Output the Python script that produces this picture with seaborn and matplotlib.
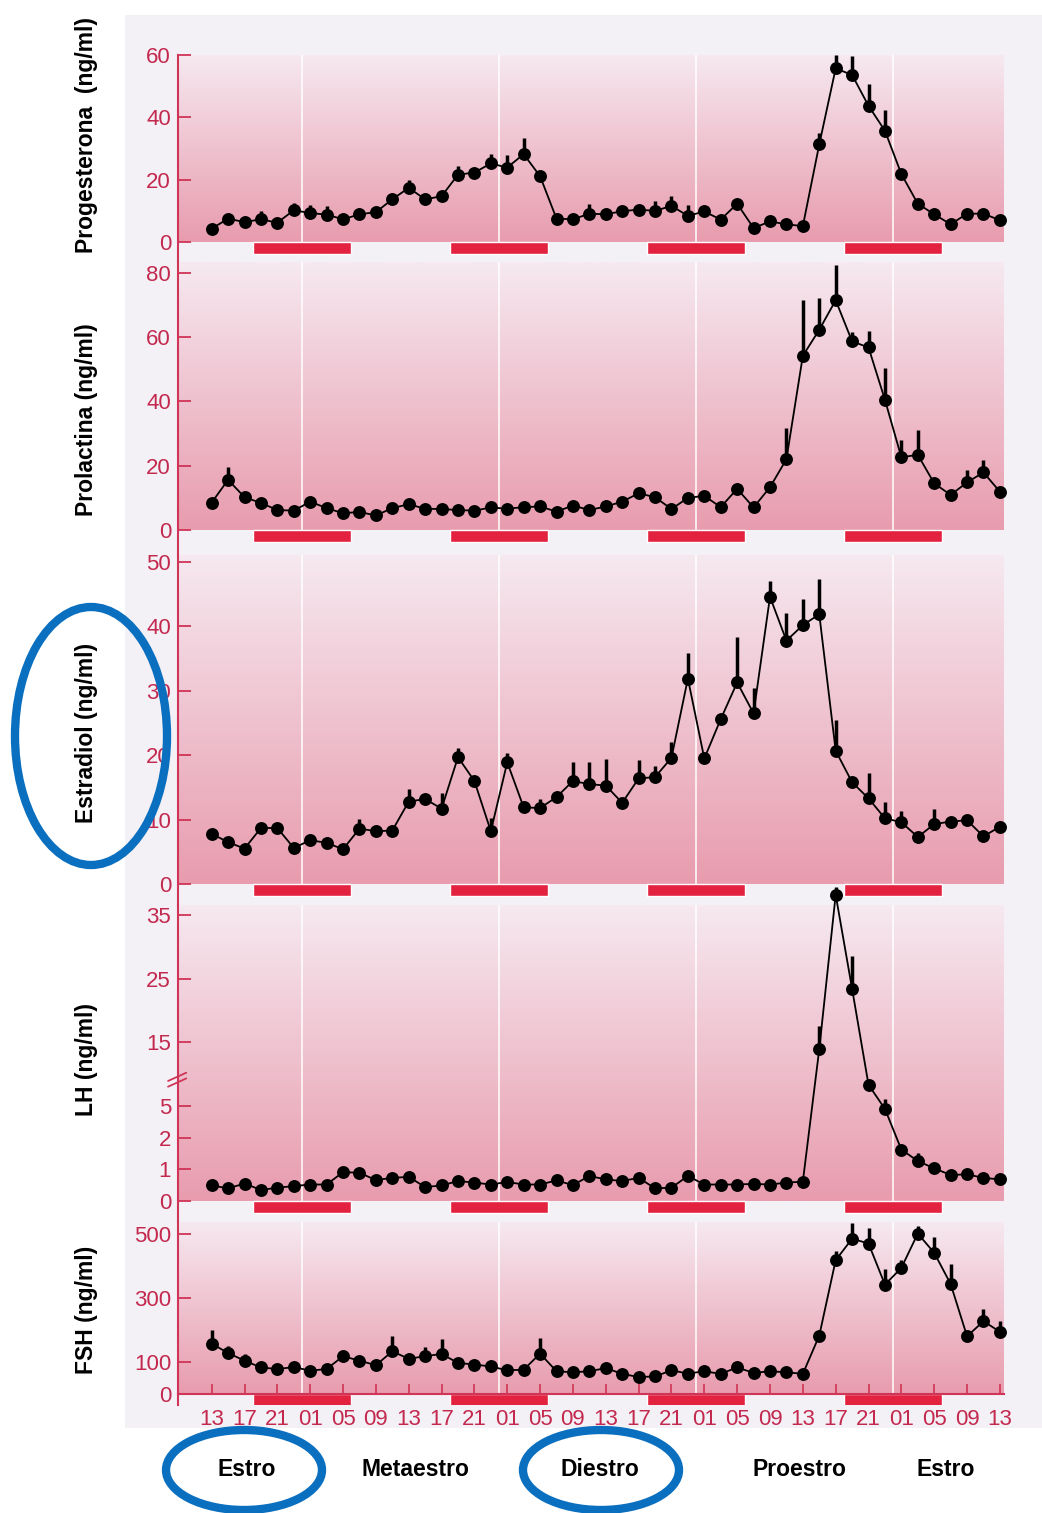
import numpy as np
import pandas as pd
import matplotlib
matplotlib.use('Agg')
import matplotlib.pyplot as plt
import matplotlib.transforms as mtransforms
from matplotlib.colors import LinearSegmentedColormap
from matplotlib.patches import Ellipse, Rectangle
import seaborn as sns

sns.set_theme(style="white")
plt.rcParams['font.family'] = ['Liberation Sans', 'DejaVu Sans']

# --- data (hours counted from 13:00 of day 1, samples every 2 h) ---
horas = np.arange(0, 97, 2)
tick_horas = np.arange(0, 97, 4)
tick_labels = ['13', '17', '21', '01', '05', '09'] * 4 + ['13']
oscuridad = [5, 29, 53, 77]          # 18:00 -> 06:00 dark period
medianoche = [11, 35, 59, 83]
fases = ['Estro', 'Metaestro', 'Diestro', 'Proestro', 'Estro']

progesterona = [4.3, 7.5, 6.4, 7.3, 6.2, 10.2, 9.3, 8.8, 7.3, 8.9,
                9.6, 13.7, 17.4, 13.7, 14.7, 21.6, 22.3, 25.2, 23.9, 28.2,
                21.1, 7.5, 7.3, 9.1, 8.9, 9.9, 10.4, 10.0, 11.6, 8.4,
                9.8, 7.2, 12.3, 4.5, 6.6, 5.7, 5.1, 31.3, 55.7, 53.6,
                43.7, 35.7, 21.8, 12.3, 8.9, 5.7, 9.1, 9.1, 7.0]
progesterona_err = [0, 0, 0, 2.7, 0, 2.4, 2.5, 2.8, 0, 0,
                    0, 0, 2.4, 0, 0, 2.7, 0, 3.2, 4.0, 5.3,
                    0, 0, 0, 3.2, 0, 0, 0, 3.1, 3.2, 3.4,
                    0, 0, 0, 0, 0, 0, 0, 3.7, 4.3, 6.2,
                    6.9, 6.8, 0, 0, 0, 0, 0, 0, 0]

prolactina = [8.5, 15.6, 10.2, 8.4, 6.2, 6.0, 8.8, 6.8, 5.2, 5.6,
              4.5, 6.8, 8.0, 6.6, 6.5, 6.2, 6.0, 7.0, 6.6, 7.1,
              7.3, 5.7, 7.6, 6.2, 7.3, 8.8, 11.4, 10.2, 6.5, 10.0,
              10.6, 7.1, 12.8, 7.0, 13.3, 22.0, 54.2, 62.3, 71.5, 58.7,
              56.8, 40.5, 22.6, 23.4, 14.5, 10.9, 14.8, 17.9, 11.9]
prolactina_err = [0, 4.1, 0, 0, 0, 0, 0, 0, 0, 0,
                  0, 0, 0, 0, 0, 0, 0, 0, 0, 0,
                  0, 0, 0, 0, 0, 0, 0, 0, 0, 0,
                  0, 0, 0, 0, 0, 9.7, 17.3, 9.9, 11.1, 2.8,
                  5.0, 9.9, 5.4, 7.8, 0, 0, 3.9, 3.9, 0]

estradiol = [7.8, 6.5, 5.5, 8.7, 8.7, 5.6, 6.8, 6.4, 5.4, 8.6,
             8.2, 8.3, 12.8, 13.2, 11.7, 19.7, 16.0, 8.2, 18.9, 11.9,
             11.8, 13.5, 16.0, 15.5, 15.3, 12.6, 16.4, 16.6, 19.6, 31.9,
             19.5, 25.6, 31.3, 26.5, 44.6, 37.8, 40.2, 41.9, 20.7, 15.8,
             13.3, 10.2, 9.6, 7.3, 9.3, 9.7, 9.9, 7.4, 8.9]
estradiol_err = [0, 0, 0, 0, 0, 0, 0, 0, 0, 1.5,
                 0, 0, 1.9, 0, 2.5, 1.5, 0, 2.0, 1.5, 0,
                 1.4, 0, 3.0, 3.4, 4.1, 0, 2.9, 1.7, 2.4, 4.0,
                 0, 0, 7.0, 4.0, 2.4, 4.3, 4.0, 5.4, 4.7, 0,
                 3.9, 2.5, 1.7, 0, 2.3, 0, 0, 0, 0]

lh = [0.49, 0.40, 0.55, 0.35, 0.42, 0.47, 0.52, 0.52, 0.91, 0.89,
      0.66, 0.73, 0.76, 0.44, 0.49, 0.63, 0.58, 0.52, 0.60, 0.52,
      0.52, 0.65, 0.50, 0.79, 0.68, 0.63, 0.73, 0.40, 0.42, 0.79,
      0.52, 0.52, 0.52, 0.54, 0.52, 0.58, 0.61, 13.9, 38.2, 23.4,
      8.3, 4.7, 1.62, 1.26, 1.03, 0.82, 0.84, 0.73, 0.68]
lh_err = [0, 0, 0, 0, 0, 0, 0, 0, 0.15, 0.1,
          0, 0, 0, 0, 0, 0, 0, 0, 0, 0,
          0, 0, 0, 0, 0, 0, 0, 0, 0, 0,
          0, 0, 0, 0, 0, 0, 0, 3.7, 1.3, 5.2,
          0, 1.3, 0, 0.26, 0, 0, 0, 0, 0]

fsh = [157, 128, 104, 83, 78, 84, 73, 78, 118, 104,
       90, 133, 110, 118, 125, 97, 92, 86, 74, 76,
       126, 71, 68, 71, 81, 63, 53, 55, 74, 64,
       71, 63, 83, 66, 71, 68, 63, 182, 417, 484,
       469, 341, 393, 500, 440, 343, 180, 227, 194]
fsh_err = [44, 21, 21, 0, 0, 0, 0, 0, 0, 0,
           0, 49, 0, 29, 48, 0, 0, 0, 0, 0,
           49, 0, 0, 0, 0, 0, 0, 0, 0, 0,
           0, 0, 0, 0, 0, 0, 0, 0, 28, 49,
           48, 49, 26, 23, 50, 62, 0, 37, 35]

# --- styling ---
W, H = 1042, 1513
ROJO = '#e2223f'
ROJO_TXT = '#c3294e'
ROJO_EJE = '#d03456'
AZUL = '#0a6fbf'
rosa = LinearSegmentedColormap.from_list('rosa', ['#e89cae', '#efc2cf', '#f6e9f0'])

# LH axis: broken scale 0,1,2,5 | 15,25,35
lh_v = [-1, 0, 1, 2, 5, 15, 25, 35, 45]
lh_p = [-1, 0, 1, 2, 3, 5, 7, 9, 11]


def lh_fwd(v):
    return np.interp(v, lh_v, lh_p)


def lh_inv(p):
    return np.interp(p, lh_p, lh_v)


# (label, values, errors, axes top px, axes bottom px, ylim, yticks, bar thickness, label y px)
paneles = [
    ('Progesterona  (ng/ml)', progesterona, progesterona_err, 55, 262, (-6.4, 60), [0, 20, 40, 60], 3.85, 135),
    ('Prolactina (ng/ml)', prolactina, prolactina_err, 262, 555, (-7.8, 83.4), [0, 20, 40, 60, 80], 3.7, 420),
    ('Estradiol (ng/ml)', estradiol, estradiol_err, 555, 905, (-3.26, 51.1), [0, 10, 20, 30, 40, 50], 1.86, 733),
    ('LH (ng/ml)', lh, lh_err, 905, 1222, (-0.66, 36.6), [0, 1, 2, 5, 15, 25, 35], 0.38, 1060),
    ('FSH (ng/ml)', fsh, fsh_err, 1222, 1405, (-34, 536), [0, 100, 300, 500], 37, 1310),
]

fig = plt.figure(figsize=(W / 100, H / 100), dpi=100)
fig.patch.set_facecolor('white')
fig.patches.append(Rectangle((125 / W, 1 - 1428 / H), (W - 125) / W, (1428 - 15) / H,
                             transform=fig.transFigure, facecolor='#f4f1f6',
                             edgecolor='none', zorder=-5))

xlim = (-4.1, 96.5)
for i, (label, vals, errs, top, bot, ylim, yticks, thick, ly) in enumerate(paneles):
    ax = fig.add_axes([178 / W, 1 - bot / H, (1004 - 178) / W, (bot - top) / H])
    ax.set_facecolor('none')
    df = pd.DataFrame({'hora': horas, 'valor': vals, 'err': errs})

    sns.lineplot(data=df, x='hora', y='valor', ax=ax, color='black', marker='o',
                 markersize=9.3, markeredgewidth=0, linewidth=1.3, clip_on=False, zorder=4)
    e = df[df['err'] > 0]
    eb = ax.errorbar(e['hora'], e['valor'], yerr=[np.zeros(len(e)), e['err']], fmt='none',
                     ecolor='black', elinewidth=2.5, capsize=0, zorder=3)
    for coll in eb[2]:
        coll.set_clip_on(False)

    ax.broken_barh([(s, 12) for s in oscuridad], (-thick, thick), facecolors=ROJO, zorder=2)

    if label.startswith('LH'):
        ax.set_yscale('function', functions=(lh_fwd, lh_inv))
    ax.set_xlim(*xlim)
    ax.set_ylim(*ylim)

    # pink gradient above zero, white midnight lines
    zero_frac = ax.transAxes.inverted().transform(ax.transData.transform((0, 0)))[1]
    ax.imshow(np.linspace(0, 1, 256).reshape(-1, 1), cmap=rosa, aspect='auto',
              extent=(0, 1, zero_frac, 1), origin='lower', transform=ax.transAxes, zorder=0)
    for m in medianoche:
        ax.axvline(m, ymin=zero_frac, ymax=1, color='white', lw=1.1, zorder=1)
    ax.set_xlim(*xlim)
    ax.set_ylim(*ylim)

    ax.set_yticks(yticks)
    ax.set_yticklabels([str(t) for t in yticks])
    for side in ['top', 'right', 'bottom']:
        ax.spines[side].set_visible(False)
    ax.spines['left'].set_color(ROJO_EJE)
    ax.spines['left'].set_linewidth(1.5)
    ax.tick_params(axis='y', direction='in', length=9, width=1.3, color=ROJO_EJE,
                   labelcolor=ROJO_TXT, labelsize=16, pad=5, left=True)
    ax.set_xlabel('')
    ax.set_ylabel('')

    if i == len(paneles) - 1:
        ax.spines['bottom'].set_visible(True)
        ax.spines['bottom'].set_position(('data', 0))
        ax.spines['bottom'].set_color(ROJO_EJE)
        ax.spines['bottom'].set_linewidth(1.5)
        ax.set_xticks(tick_horas)
        ax.set_xticklabels(tick_labels)
        ax.tick_params(axis='x', direction='in', length=7, width=1.2, color=ROJO_EJE,
                       labelcolor=ROJO_TXT, labelsize=16, pad=11, bottom=True)
    else:
        ax.set_xticks([])
        ax.tick_params(axis='x', bottom=False, labelbottom=False)

    if label.startswith('LH'):
        # axis break mark between 5 and 15
        tr = mtransforms.blended_transform_factory(ax.transAxes, ax.transData)
        ax.plot([-0.012, 0.01], [8.0, 9.3], transform=tr, color=ROJO_EJE, lw=1.3, clip_on=False)
        ax.plot([-0.012, 0.01], [8.9, 10.2], transform=tr, color=ROJO_EJE, lw=1.3, clip_on=False)

    fig.text(86 / W, 1 - ly / H, label, rotation=90, ha='center', va='center',
             fontsize=16.5, fontweight='bold', color='black')

# phases
for nombre, xp in zip(fases, [247, 415, 600, 799, 946]):
    fig.text(xp / W, 1 - 1469 / H, nombre, ha='center', va='center',
             fontsize=16.5, fontweight='bold', color='black')

# blue highlight ellipses
for cx, cy, w, h in [(91, 736, 152, 258), (244, 1470, 156, 80), (601, 1470, 156, 80)]:
    fig.patches.append(Ellipse((cx / W, 1 - cy / H), w / W, h / H, transform=fig.transFigure,
                               fill=False, edgecolor=AZUL, linewidth=6, zorder=10))

fig.savefig('out.png', dpi=100)
